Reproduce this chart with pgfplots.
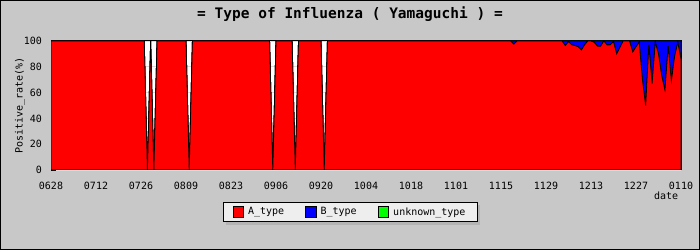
\documentclass[border=0pt]{standalone}
\usepackage{fontspec}
\setmainfont{DejaVu Sans Mono}
\usepackage{pgfplots}
\pgfplotsset{compat=1.18}
\usepackage{pgfplotstable}
\definecolor{bggray}{HTML}{C8C8C8}
\definecolor{leggray}{HTML}{EEEEEE}
\definecolor{shadgray}{HTML}{B4B4B4}
\definecolor{gridgray}{HTML}{DCDCDC}
\pgfplotsset{
  layers/gridbelow/.define layer set={axis background,axis grid,pre main,main,axis ticks,axis lines,axis tick labels,axis descriptions,axis foreground}{},
}
\pgfplotstableread{
d A B U
0 100 0 0
29 100 0 0
30 0 0 0
31 100 0 0
32 0 0 0
33 100 0 0
42 100 0 0
43 0 0 0
44 100 0 0
68 100 0 0
69 0 0 0
70 100 0 0
75 100 0 0
76 0 0 0
77 100 0 0
84 100 0 0
85 0 0 0
86 100 0 0
143 100 0 0
144 97.5 2.5 0
145 100 0 0
159 100 0 0
160 96.5 3.5 0
161 99.5 0.5 0
162 97 3 0
163 96.5 3.5 0
164 95.5 4.5 0
165 93 7 0
166 97 3 0
167 100 0 0
168 100 0 0
169 99 1 0
170 96 4 0
171 96 4 0
172 100 0 0
173 97 3 0
174 97 3 0
175 99.5 0.5 0
176 90 10 0
177 95 5 0
178 100 0 0
180 100 0 0
181 91.5 8.5 0
182 95.5 4.5 0
183 99 1 0
184 70 30 0
185 50 50 0
186 97 3 0
187 67 33 0
188 99 1 0
189 90 10 0
190 73 27 0
191 62 38 0
192 96 4 0
193 69 31 0
194 88 12 0
195 99 1 0
196 86 14 0
}\flu
\begin{document}
\begin{tikzpicture}
\fill[bggray] (0bp,0bp) rectangle (700bp,250bp);
\draw[line width=1bp] (0.5bp,0.5bp) rectangle (699.5bp,249.5bp);
\fill[shadgray] (226.3bp,24.7bp) rectangle (480.3bp,44.7bp);
\begin{axis}[
  at={(51bp,80bp)}, anchor=south west,
  scale only axis, width=630bp, height=129bp,
  xmin=0, xmax=196, ymin=0, ymax=100,
  set layers=gridbelow,
  axis background/.style={fill=white},
  ymajorgrids,
  major grid style={gridgray, line width=0.8bp},
  stack plots=y,
  axis line style={line width=1bp},
  font=\fontsize{10bp}{12bp}\selectfont,
  /pgf/number format/assume math mode=true,
  xtick={0,14,...,196},
  xticklabels={0628,0712,0726,0809,0823,0906,0920,1004,1018,1101,1115,1129,1213,1227,0110},
  ytick={0,20,...,100},
  minor ytick={10,30,...,90},
  xtick pos=bottom, ytick pos=left,
  tick align=inside,
  major tick length=5bp, minor tick length=2.5bp,
  tick style={black, line width=0.8bp},
  xticklabel style={yshift=-8.5bp},
  yticklabel style={xshift=-5.5bp},
  xlabel={date},
  xlabel style={at={(rel axis cs:1,0)}, anchor=north east, yshift=-18.4bp, xshift=0.6bp},
  ylabel={Positive\_rate(\%)},
  ylabel style={at={(rel axis cs:0,0.5)}, anchor=center, yshift=31bp},
  title={\bfseries\fontsize{14.5bp}{16bp}\selectfont = Type of Influenza ( Yamaguchi ) =},
  title style={at={(0.4746,1)}, anchor=base, yshift=16.5bp},
  legend columns=3,
  legend image code/.code={\draw[#1,draw=black,line width=0.8bp] (0bp,-5.3bp) rectangle (10.7bp,5.3bp);},
  legend style={at={(0.4746,-0.3256)}, anchor=center, draw=black, line width=0.8bp, fill=leggray,
    font=\fontsize{10bp}{12bp}\selectfont, inner xsep=9.5bp, inner ysep=3bp,
    /tikz/every odd column/.append style={column sep=2bp},
    /tikz/every even column/.append style={column sep=19bp}},
]
\addplot[fill=red, draw=black, line width=0.8bp] table[x=d, y=A] {\flu} \closedcycle;
\addplot[fill=blue, draw=black, line width=0.8bp] table[x=d, y=B] {\flu} \closedcycle;
\addplot[fill=green, draw=black, line width=0.8bp] table[x=d, y=U] {\flu} \closedcycle;
\legend{A\_type, B\_type, unknown\_type}
\end{axis}
\useasboundingbox (0bp,0bp) rectangle (700bp,250bp);
\end{tikzpicture}
\end{document}
